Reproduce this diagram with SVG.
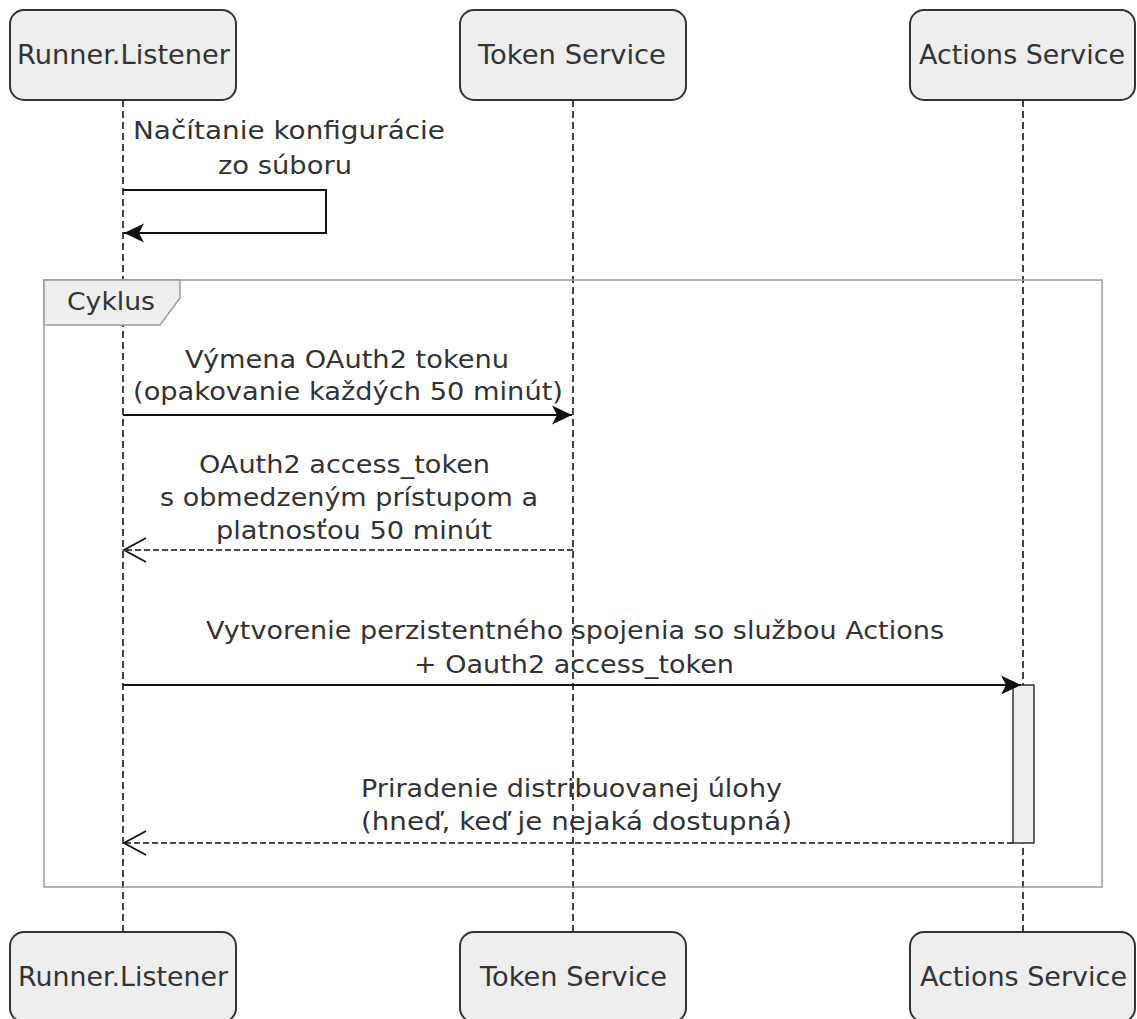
<svg xmlns="http://www.w3.org/2000/svg" width="1137" height="1019" viewBox="0 0 1137 1019">
  <style>
    .actor { fill: #eeeeee; stroke: #333333; stroke-width: 2; }
    .actor-label { font-family: "DejaVu Sans", Verdana, sans-serif; font-size: 27px; fill: #333333; }
    .label { font-family: "DejaVu Sans", Verdana, sans-serif; font-size: 25.5px; fill: #333333; }
    .lifeline { stroke: #222222; stroke-width: 1.7; stroke-dasharray: 7 4; fill: none; }
    .msg { stroke: #111111; stroke-width: 2; fill: none; }
    .reply { stroke: #111111; stroke-width: 1.6; stroke-dasharray: 6 3; fill: none; }
    .frame { fill: none; stroke: #9a9a9a; stroke-width: 1.5; }
    .frame-tab { fill: #eeeeee; stroke: #9a9a9a; stroke-width: 1.5; }
    .activation { fill: #eeeeee; stroke: #333333; stroke-width: 1.5; }
  </style>
  <defs>
    <!-- solid call arrowhead (notched) -->
    <marker id="filled" markerUnits="userSpaceOnUse" markerWidth="22" markerHeight="22" refX="20" refY="11" orient="auto">
      <path d="M0,1.5 L20,11 L0,20.5 L5,11 Z" fill="#111111"/>
    </marker>
    <!-- open reply arrowhead -->
    <marker id="open" markerUnits="userSpaceOnUse" markerWidth="26" markerHeight="28" refX="23" refY="14" orient="auto">
      <path d="M1,2 L23,14 L1,26" fill="none" stroke="#111111" stroke-width="1.8"/>
    </marker>
  </defs>

  <rect width="1137" height="1019" fill="#ffffff"/>

  <!-- lifelines -->
  <g id="lifelines">
    <line class="lifeline" x1="123" y1="100" x2="123" y2="932"/>
    <line class="lifeline" x1="573" y1="100" x2="573" y2="932"/>
    <line class="lifeline" x1="1023" y1="100" x2="1023" y2="932"/>
  </g>

  <!-- loop frame -->
  <g id="loop-frame">
    <rect class="frame" x="44" y="280" width="1058" height="607"/>
    <polygon class="frame-tab" points="44,280 180,280 180,298 160,325 44,325"/>
    <text class="label" x="67" y="310" textLength="88" lengthAdjust="spacingAndGlyphs">Cyklus</text>
  </g>

  <!-- participants, top -->
  <g id="runner-top">
    <rect class="actor" x="10" y="10" width="226" height="90" rx="14"/>
    <text class="actor-label" x="17" y="64" textLength="213" lengthAdjust="spacingAndGlyphs">Runner.Listener</text>
  </g>
  <g id="token-top">
    <rect class="actor" x="460" y="10" width="226" height="90" rx="14"/>
    <text class="actor-label" x="478" y="64" textLength="188" lengthAdjust="spacingAndGlyphs">Token Service</text>
  </g>
  <g id="actions-top">
    <rect class="actor" x="910" y="10" width="225" height="90" rx="14"/>
    <text class="actor-label" x="919" y="64" textLength="206" lengthAdjust="spacingAndGlyphs">Actions Service</text>
  </g>

  <!-- participants, bottom -->
  <g id="runner-bottom">
    <rect class="actor" x="10" y="932" width="226" height="90" rx="14"/>
    <text class="actor-label" x="18" y="986" textLength="210" lengthAdjust="spacingAndGlyphs">Runner.Listener</text>
  </g>
  <g id="token-bottom">
    <rect class="actor" x="460" y="932" width="226" height="90" rx="14"/>
    <text class="actor-label" x="480" y="986" textLength="187" lengthAdjust="spacingAndGlyphs">Token Service</text>
  </g>
  <g id="actions-bottom">
    <rect class="actor" x="910" y="932" width="225" height="90" rx="14"/>
    <text class="actor-label" x="920" y="986" textLength="207" lengthAdjust="spacingAndGlyphs">Actions Service</text>
  </g>

  <!-- activation on Actions Service -->
  <g id="actions-activation">
    <rect class="activation" x="1013" y="685" width="21" height="158"/>
  </g>

  <!-- messages -->
  <g id="connectors">
    <path class="msg" d="M123,190 L326,190 L326,233 L124,233" marker-end="url(#filled)"/>
    <line class="msg" x1="123" y1="415" x2="572" y2="415" marker-end="url(#filled)"/>
    <line class="reply" x1="573" y1="550" x2="124" y2="550" marker-end="url(#open)"/>
    <line class="msg" x1="123" y1="685" x2="1021" y2="685" marker-end="url(#filled)"/>
    <line class="reply" x1="1013" y1="843" x2="124" y2="843" marker-end="url(#open)"/>
  </g>

  <!-- message labels -->
  <g id="message-labels">
    <text class="label" x="133" y="139" textLength="312" lengthAdjust="spacingAndGlyphs">Načítanie konfigurácie</text>
    <text class="label" x="218" y="174" textLength="134" lengthAdjust="spacingAndGlyphs">zo súboru</text>

    <text class="label" x="185" y="368" textLength="324" lengthAdjust="spacingAndGlyphs">Výmena OAuth2 tokenu</text>
    <text class="label" x="133" y="400" textLength="430" lengthAdjust="spacingAndGlyphs">(opakovanie každých 50 minút)</text>

    <text class="label" x="199" y="473" textLength="291" lengthAdjust="spacingAndGlyphs">OAuth2 access_token</text>
    <text class="label" x="160" y="506" textLength="378" lengthAdjust="spacingAndGlyphs">s obmedzeným prístupom a</text>
    <text class="label" x="216" y="539" textLength="276" lengthAdjust="spacingAndGlyphs">platnosťou 50 minút</text>

    <text class="label" x="206" y="639" textLength="738" lengthAdjust="spacingAndGlyphs">Vytvorenie perzistentného spojenia so službou Actions</text>
    <text class="label" x="414" y="673" textLength="320" lengthAdjust="spacingAndGlyphs">+ Oauth2 access_token</text>

    <text class="label" x="361" y="797" textLength="421" lengthAdjust="spacingAndGlyphs">Priradenie distribuovanej úlohy</text>
    <text class="label" x="361" y="830" textLength="431" lengthAdjust="spacingAndGlyphs">(hneď, keď je nejaká dostupná)</text>
  </g>
</svg>
